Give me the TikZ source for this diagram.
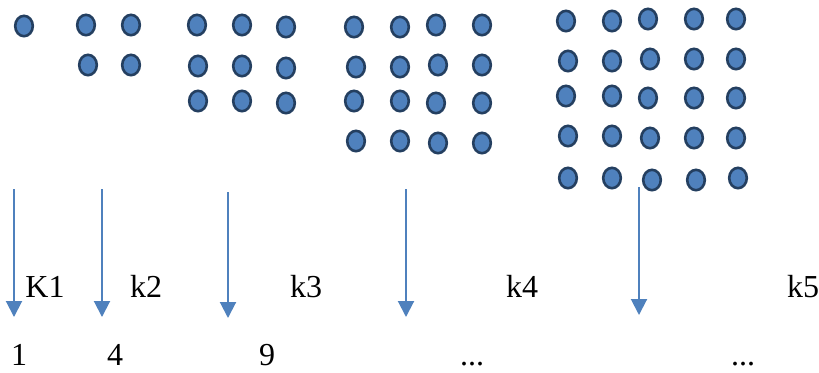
\documentclass[tikz,border=0pt]{standalone}
\usepackage{fontspec}
\setmainfont{Liberation Serif}
\usetikzlibrary{shapes.geometric,arrows.meta}
\definecolor{dotblue}{HTML}{4F81BD}
\definecolor{dotedge}{HTML}{243F60}
\tikzset{dotnode/.style={ellipse, draw=dotedge, fill=dotblue, line width=1.3pt, minimum width=8.8pt, minimum height=10.2pt, inner sep=0pt},
countarrow/.style={draw=dotblue, line width=1pt, -{Triangle[width=8pt,length=8pt]}},
labelnode/.style={font=\fontsize{16}{19}\selectfont, inner sep=0pt, anchor=base},}

\begin{document}
\begin{tikzpicture}[x=0.5pt, y=-0.5pt]
\useasboundingbox (0,0) rectangle (819,372);
% dot groups
\node [dotnode] (k1dot1) at (24,26) {};
\foreach \x/\y [count=\i] in {86/25, 131/25, 88/65, 131/65}
  \node [dotnode] (k2dot\i) at (\x,\y) {};
\foreach \x/\y [count=\i] in {197/25, 242/25, 286/27, 198/66, 242/66, 286/68, 198/101, 242/101, 286/103}
  \node [dotnode] (k3dot\i) at (\x,\y) {};
\foreach \x/\y [count=\i] in {354/27, 400/27, 436/25, 482/25, 356/67, 400/67, 438/65, 482/65,
  354/101, 400/101, 436/103, 482/103, 356/141, 400/141, 438/143, 482/143}
  \node [dotnode] (k4dot\i) at (\x,\y) {};
\foreach \x/\y [count=\i] in {566/21, 612/21, 648/19, 694/19, 736/19, 568/61, 612/61, 650/59, 694/59, 736/59,
  566/96, 612/96, 648/98, 694/98, 736/98, 568/136, 612/136, 650/138, 694/138, 736/138,
  568/178, 612/178, 652/180, 696/180, 738/178}
  \node [dotnode] (k5dot\i) at (\x,\y) {};
% arrows
\coordinate (top1) at (14,189);  \coordinate (end1) at (14,317);
\coordinate (top2) at (102,189); \coordinate (end2) at (102,317);
\coordinate (top3) at (228,192); \coordinate (end3) at (228,318);
\coordinate (top4) at (406,189); \coordinate (end4) at (406,317);
\coordinate (top5) at (639,187); \coordinate (end5) at (639,315);
\draw [countarrow] (top1) -- (end1);
\draw [countarrow] (top2) -- (end2);
\draw [countarrow] (top3) -- (end3);
\draw [countarrow] (top4) -- (end4);
\draw [countarrow] (top5) -- (end5);
% labels
\node [labelnode] (lab1) at (45,297) {K1};
\node [labelnode] (lab2) at (146,297) {k2};
\node [labelnode] (lab3) at (306,297) {k3};
\node [labelnode] (lab4) at (522,297) {k4};
\node [labelnode] (lab5) at (803,297) {k5};
\node [labelnode] (num1) at (19,365) {1};
\node [labelnode] (num2) at (115,365) {4};
\node [labelnode] (num3) at (267,365) {9};
\node [labelnode] (num4) at (472,365) {...};
\node [labelnode] (num5) at (743,365) {...};
\end{tikzpicture}
\end{document}
